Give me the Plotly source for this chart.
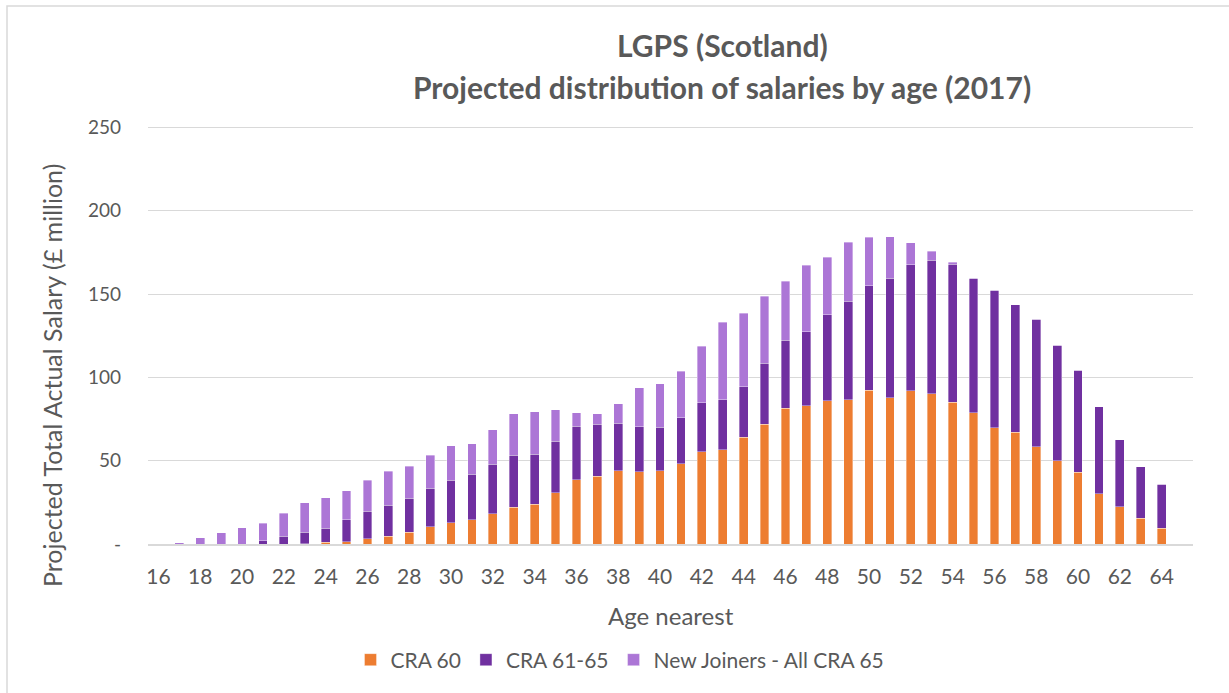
import plotly.graph_objects as go

ages = list(range(16, 66))
age_ticks = list(range(16, 65, 2))

cra60 = [0, 0, 0, 0, 0, 0, 0, 0.3, 1.1, 1.5,
         3.1, 4.7, 7.1, 10.3, 12.7, 14.7, 18.1, 22.1, 23.9, 30.9,
         38.7, 40.7, 44.1, 43.5, 44.1, 48.1, 55.5, 56.5, 64.1, 71.9,
         81.6, 82.9, 85.9, 86.5, 92.3, 87.7, 92.1, 90.2, 85.2, 78.8,
         69.7, 67.1, 58.3, 49.9, 43.1, 30.1, 22.4, 15.6, 9.4, 0]

cra61_65 = [0, 0, 0, 0, 0, 2.1, 4.7, 6.8, 8.4, 13.1,
            16.5, 18.6, 20.5, 23.2, 25.6, 27.2, 29.8, 31.2, 30.0, 30.8,
            32.0, 31.2, 28.4, 27.0, 26.0, 27.8, 29.4, 30.2, 30.4, 36.6,
            40.7, 44.6, 51.6, 59.2, 62.8, 71.8, 75.4, 80.2, 82.7, 80.7,
            82.6, 76.4, 76.6, 69.5, 61.1, 52.3, 40.1, 30.9, 26.5, 0]

new_joiners = [0, 0.8, 3.7, 6.8, 9.8, 10.5, 13.9, 17.8, 18.4, 17.5,
               18.8, 20.3, 19.2, 19.8, 20.8, 18.2, 20.6, 25.0, 25.6, 19.0,
               8.0, 6.2, 11.8, 23.2, 26.0, 27.9, 33.7, 46.5, 44.1, 40.1,
               35.3, 39.9, 34.5, 35.3, 28.9, 24.9, 13.3, 5.2, 1.2, 0,
               0, 0, 0, 0, 0, 0, 0, 0, 0, 0]

series_names = ["CRA 60", "CRA 61-65", "New Joiners - All CRA 65"]
colors = ["#ED7D31", "#7030A0", "#AC76D6"]
title_lines = ["LGPS (Scotland)", "Projected distribution of salaries by age (2017)"]
y_ticks = [0, 50, 100, 150, 200, 250]
y_ticktext = ["-", "50", "100", "150", "200", "250"]

FONT = "Lato, 'Open Sans', sans-serif"
GREY = "#595959"

fig = go.Figure()
for name, vals, col in zip(series_names, [cra60, cra61_65, new_joiners], colors):
    fig.add_trace(go.Bar(
        x=ages, y=vals, name=name,
        marker=dict(color=col, line=dict(color="rgba(255,255,255,0.6)", width=0.6)),
    ))

W, H = 1229, 693
L, R, T, B = 148, 36, 124, 149
pw, ph = W - L - R, H - T - B


def px_x(px):
    return (px - L) / pw


def px_y(py):
    return (H - B - py) / ph


fig.update_layout(
    width=W, height=H,
    barmode="stack", bargap=0.58,
    plot_bgcolor="white", paper_bgcolor="white",
    margin=dict(l=L, r=R, t=T, b=B, autoexpand=False),
    font=dict(family=FONT, color=GREY, size=18),
    xaxis=dict(
        range=[15.5, 65.5], automargin=False,
        tickmode="array", tickvals=age_ticks, ticktext=[str(a) for a in age_ticks],
        showgrid=False, showline=True, linecolor="#D9D9D9", linewidth=1.5,
        ticks="", tickfont=dict(size=21, color=GREY),
        ticklabelstandoff=13,
    ),
    yaxis=dict(
        range=[0, 252], automargin=False, tickmode="array",
        tickvals=y_ticks, ticktext=y_ticktext,
        showgrid=True, gridcolor="#D9D9D9", gridwidth=1.3,
        zeroline=False, showline=False, ticks="",
        tickfont=dict(size=19, color=GREY),
        ticklabelstandoff=26,
    ),
    legend=dict(
        orientation="h", x=620 / W, xanchor="center", xref="container",
        y=1 - 660 / H, yanchor="middle", yref="container",
        font=dict(size=21, color=GREY), traceorder="normal",
    ),
    showlegend=True,
)

# title lines
for txt, cy in zip(title_lines, [45, 87]):
    fig.add_annotation(
        text=f"<b>{txt}</b>", showarrow=False,
        xref="paper", yref="paper", x=px_x(722), y=px_y(cy),
        xanchor="center", yanchor="middle",
        font=dict(family=FONT, size=30, color=GREY),
    )

# x-axis title
fig.add_annotation(
    text="Age nearest", showarrow=False,
    xref="paper", yref="paper", x=px_x(671), y=px_y(615),
    xanchor="center", yanchor="middle",
    font=dict(family=FONT, size=24, color=GREY),
)

# y-axis title
fig.add_annotation(
    text="Projected Total Actual Salary (£ million)",
    textangle=-90, showarrow=False,
    xref="paper", yref="paper",
    x=px_x(52), y=px_y(376),
    xanchor="center", yanchor="middle",
    font=dict(family=FONT, size=25, color=GREY),
)

# outer chart border
fig.add_shape(
    type="rect", xref="paper", yref="paper",
    x0=px_x(7), x1=px_x(W + 5),
    y0=px_y(H + 5), y1=px_y(6),
    line=dict(color="#D9D9D9", width=1.5), fillcolor="rgba(0,0,0,0)",
    layer="below",
)

fig.write_html("out.html")
